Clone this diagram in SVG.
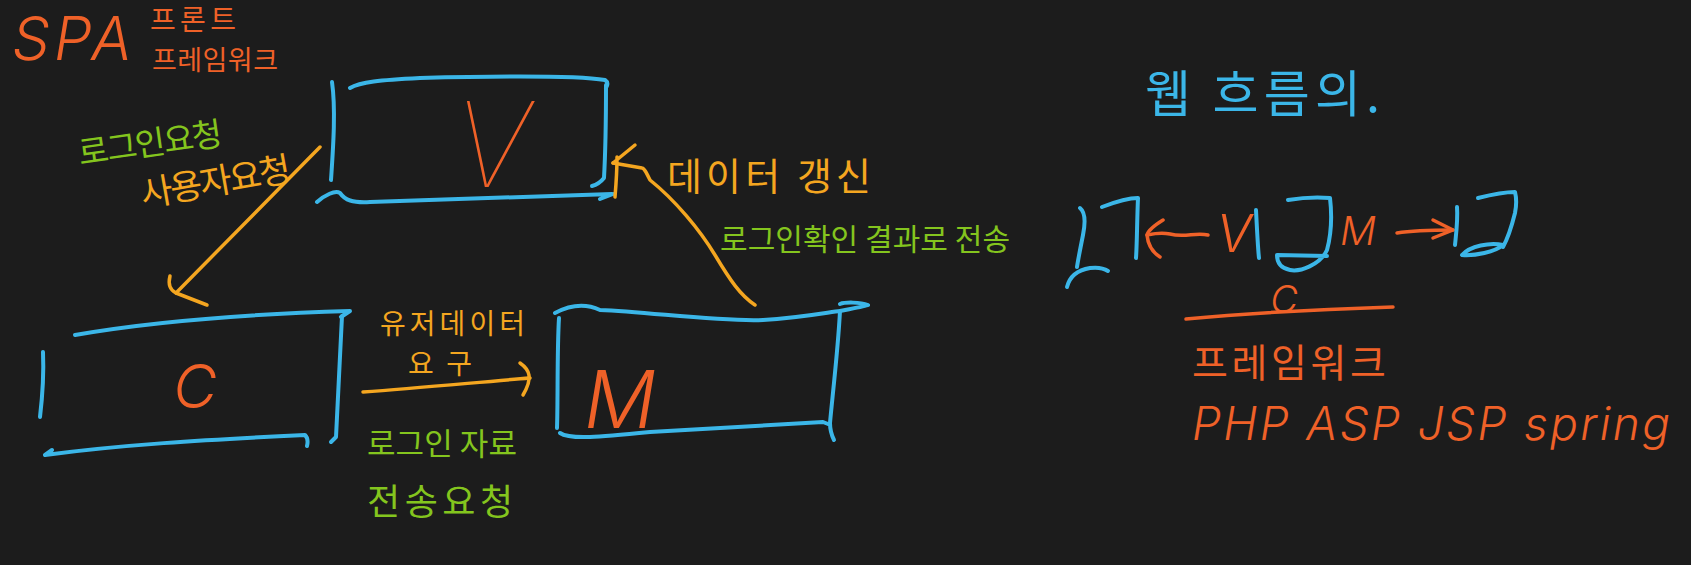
<svg xmlns="http://www.w3.org/2000/svg" width="1691" height="565" viewBox="0 0 1691 565">
<style>
.bg{fill:#1c1c1c}
.b{stroke:#3bb6e8;fill:none;stroke-width:4;stroke-linecap:round;stroke-linejoin:round}
.o{stroke:#ef6128;fill:none;stroke-width:3.5;stroke-linecap:round;stroke-linejoin:round}
.y{stroke:#f4a620;fill:none;stroke-width:3.5;stroke-linecap:round;stroke-linejoin:round}
.ko{font-family:"Noto Sans CJK KR","Noto Sans",sans-serif}
.la{font-family:Inter,"Liberation Sans",sans-serif;font-weight:300;font-style:italic}
.thin{font-weight:100}
.to{fill:#ef6128}
.ty{fill:#f4a620}
.tg{fill:#84c51e}
.tb{fill:#3bb6e8}
</style>
<rect class="bg" x="0" y="0" width="1691" height="565"/>

<g id="title-spa">
<text class="la to" x="12" y="60" font-size="60" letter-spacing="4">SPA</text>
<text class="ko to" x="150" y="30" font-size="28" textLength="86">프론트</text>
<text class="ko to" x="152" y="70" font-size="27" textLength="126">프레임워크</text>
</g>

<g id="label-left">
<text class="ko tg" x="80" y="165" font-size="33" transform="rotate(-8 80 165)" textLength="145">로그인요청</text>
<text class="ko ty" x="143" y="207" font-size="35" transform="rotate(-10 143 207)" textLength="152">사용자요청</text>
</g>

<g id="node-v">
<path class="b" d="M332,82 C336,110 333,150 331,180"/>
<path class="b" d="M350,88 C360,82 380,80 420,78 C500,76 580,76 605,80 C608,82 608,85 606,88"/>
<path class="b" d="M606,85 C606,120 605,160 604,178 C600,183 596,185 592,186"/>
<path class="b" d="M317,202 C325,195 335,190 340,193 C345,200 352,203 370,202 C450,200 530,196 612,194 M600,199 L613,194"/>
<text class="la thin to" x="492" y="187" font-size="118" text-anchor="middle">V</text>
</g>

<g id="node-c">
<path class="b" d="M75,335 C150,322 250,314 350,311 L341,317"/>
<path class="b" d="M342,316 C340,360 338,400 336,437 L331,442"/>
<path class="b" d="M43,352 C44,375 42,400 40,417"/>
<path class="b" d="M52,450 L45,455 C120,445 200,440 305,435 C308,438 308,442 307,446"/>
<text class="la to" x="195" y="408" font-size="60" text-anchor="middle">C</text>
</g>

<g id="node-m">
<path class="b" d="M555,313 C570,305 585,303 600,310 C650,312 720,322 763,320 C800,318 830,312 840,311 C855,308 866,306 868,305 C860,302 845,302 840,304"/>
<path class="b" d="M559,318 C557,350 558,400 557,428"/>
<path class="b" d="M840,311 C838,350 832,400 830,423 C830,430 832,436 834,440"/>
<path class="b" d="M560,433 C570,440 600,437 650,432 C720,428 780,424 823,422 L828,424"/>
<text class="la to" x="620" y="428" font-size="80" text-anchor="middle">M</text>
</g>

<g id="connectors">
<path class="y" d="M320,147 L176,293"/>
<path class="y" d="M170,276 C168,284 170,290 176,293 L207,305"/>
<path class="y" d="M755,305 C740,295 730,280 715,255 C700,230 675,200 650,180 C646,172 644,168 642,168 L613,163"/>
<path class="y" d="M635,145 L613,163 M617,157 C617,170 616,185 615,197"/>
<path class="y" d="M363,392 C420,388 480,382 530,378"/>
<path class="y" d="M520,363 C530,370 533,378 523,395"/>
</g>

<g id="label-middle">
<text class="ko ty" x="380" y="334" font-size="28" textLength="145">유저데이터</text>
<text class="ko ty" x="408" y="374" font-size="28" textLength="64">요구</text>
<text class="ko tg" x="367" y="455" font-size="31" textLength="150">로그인 자료</text>
<text class="ko tg" x="367" y="515" font-size="36" textLength="146">전송요청</text>
</g>

<g id="label-right">
<text class="ko ty" x="667" y="190" font-size="38" textLength="204">데이터 갱신</text>
<text class="ko tg" x="720" y="250" font-size="30" textLength="290">로그인확인 결과로 전송</text>
</g>

<g id="web-flow">
<text class="ko tb" x="1145" y="112" font-size="50" textLength="235">웹 흐름의.</text>
</g>

<g id="mvc-summary">
<path class="b" d="M1080,208 C1085,212 1086,220 1083,235 C1080,250 1078,260 1077,267"/>
<path class="b" d="M1067,287 C1070,275 1078,270 1090,268 C1098,267 1105,269 1108,271"/>
<path class="b" d="M1102,207 C1115,202 1128,198 1138,198 C1137,220 1137,245 1136,258"/>
<path class="o" d="M1208,235 C1195,232 1185,238 1170,234 C1160,232 1152,234 1147,235"/>
<path class="o" d="M1163,220 C1155,225 1148,230 1147,235 C1148,245 1152,252 1160,257"/>
<text class="la to" x="1234" y="252" font-size="52" text-anchor="middle">V</text>
<path class="b" d="M1256,210 C1257,230 1258,250 1259,258"/>
<path class="b" d="M1288,200 C1300,198 1318,197 1330,198 C1332,215 1331,235 1327,250 C1320,265 1300,272 1290,270 C1280,268 1277,262 1277,255 L1327,256"/>
<text class="la to" x="1358" y="245" font-size="40" text-anchor="middle">M</text>
<path class="o" d="M1397,233 C1415,230 1435,230 1453,230"/>
<path class="o" d="M1433,220 L1453,230 L1433,238"/>
<path class="b" d="M1457,207 C1458,220 1456,235 1455,245"/>
<path class="b" d="M1478,198 C1490,195 1505,192 1515,192 C1517,200 1516,208 1515,213 C1512,225 1508,238 1503,247"/>
<path class="b" d="M1462,255 C1470,246 1490,242 1503,245 C1495,252 1475,256 1462,255"/>
<text class="la to" x="1284" y="313" font-size="38" text-anchor="middle">C</text>
<path class="o" d="M1186,319 C1250,313 1330,309 1393,307"/>
<text class="ko to" x="1192" y="377" font-size="39" textLength="194">프레임워크</text>
<text class="la to" x="1192" y="440" font-size="46" textLength="478" lengthAdjust="spacing">PHP ASP JSP spring</text>
</g>
</svg>
